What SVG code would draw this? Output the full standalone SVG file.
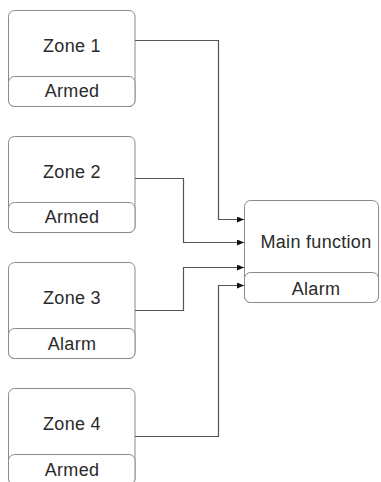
<svg xmlns="http://www.w3.org/2000/svg" width="381" height="482" viewBox="0 0 381 482">
<style>
.box{fill:#fff;stroke:#8a8a8a;stroke-width:1}
.t{font-family:"Liberation Sans",Arial,sans-serif;font-size:18px;fill:#2a2a2a;text-anchor:middle;letter-spacing:0.3px}
.c{fill:none;stroke:#555;stroke-width:1.2}
</style>
<defs>
<marker id="ah" markerWidth="7" markerHeight="6" refX="7" refY="3" orient="auto" markerUnits="userSpaceOnUse">
<path d="M0,0 L7,3 L0,6 Z" fill="#111"/>
</marker>
</defs>
<g id="zone1">
<rect class="box" x="8.5" y="10.5" width="126.5" height="96" rx="6"/>
<rect class="box" x="8.5" y="76.5" width="126.5" height="30" rx="6"/>
<text class="t" x="72" y="52">Zone 1</text>
<text class="t" x="72" y="97">Armed</text>
</g>
<g id="zone2">
<rect class="box" x="8.5" y="136.5" width="126.5" height="96" rx="6"/>
<rect class="box" x="8.5" y="202.5" width="126.5" height="30" rx="6"/>
<text class="t" x="72" y="178">Zone 2</text>
<text class="t" x="72" y="223">Armed</text>
</g>
<g id="zone3">
<rect class="box" x="8.5" y="262.5" width="126.5" height="96" rx="6"/>
<rect class="box" x="8.5" y="328.5" width="126.5" height="30" rx="6"/>
<text class="t" x="72" y="304">Zone 3</text>
<text class="t" x="72" y="350">Alarm</text>
</g>
<g id="zone4">
<rect class="box" x="8.5" y="388.5" width="126.5" height="96" rx="6"/>
<rect class="box" x="8.5" y="454.5" width="126.5" height="30" rx="6"/>
<text class="t" x="72" y="430">Zone 4</text>
<text class="t" x="72" y="476">Armed</text>
</g>
<g id="main">
<rect class="box" x="244.5" y="200.5" width="134" height="102" rx="6"/>
<rect class="box" x="244.5" y="272.5" width="134" height="30" rx="6"/>
<text class="t" x="316" y="248">Main function</text>
<text class="t" x="316" y="295">Alarm</text>
</g>
<g id="connectors">
<path class="c" d="M135,40.5 H218.5 V219.5 H244" marker-end="url(#ah)"/>
<path class="c" d="M135,178.5 H183.5 V242.5 H244" marker-end="url(#ah)"/>
<path class="c" d="M135,310.5 H183.5 V267.5 H244" marker-end="url(#ah)"/>
<path class="c" d="M135,436.5 H218.5 V285.5 H244" marker-end="url(#ah)"/>
</g>
</svg>
